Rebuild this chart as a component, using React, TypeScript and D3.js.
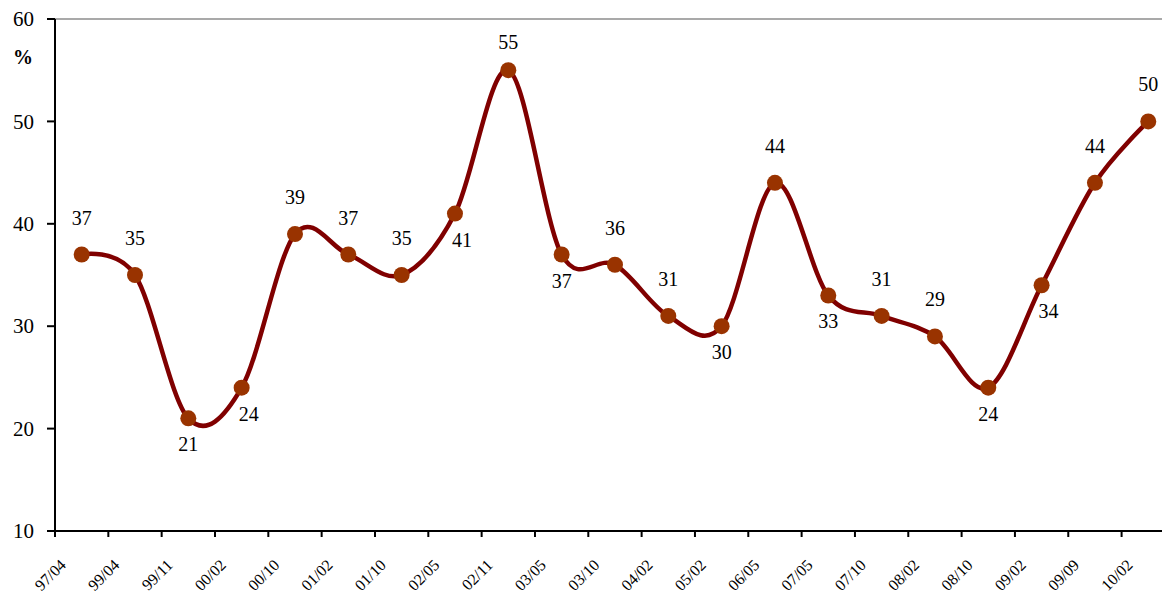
import React, { useEffect, useRef } from 'react'
import * as d3 from 'd3'

const categories = [
  '97/04', '99/04', '99/11', '00/02', '00/10', '01/02', '01/10', '02/05', '02/11', '03/05', '03/10',
  '04/02', '05/02', '06/05', '07/05', '07/10', '08/02', '08/10', '09/02', '09/09', '10/02'
]
const values = [37, 35, 21, 24, 39, 37, 35, 41, 55, 37, 36, 31, 30, 44, 33, 31, 29, 24, 34, 44, 50]
// where each data label sits relative to its point
const labelSide = [
  'above', 'above', 'below', 'right', 'above', 'above', 'above', 'right', 'above', 'below', 'above',
  'above', 'below', 'above', 'below', 'above', 'above', 'below', 'right', 'above', 'above'
]
const yTicks = [10, 20, 30, 40, 50, 60]

const width = 1162
const height = 593
const plot = { left: 55, top: 19, bottom: 531, step: 53.33 }
const serif = '"Liberation Serif", "Times New Roman", serif'

export default function App() {
  const svgRef = useRef<SVGSVGElement>(null)

  useEffect(() => {
    if (!svgRef.current) return
    const svg = d3.select(svgRef.current)
    svg.selectAll('*').remove()

    const x = d3.scaleBand()
      .domain(categories)
      .range([plot.left, plot.left + categories.length * plot.step])
      .paddingInner(0)
      .paddingOuter(0)

    const y = d3.scaleLinear()
      .domain([10, 60])
      .range([plot.bottom, plot.top])

    const cx = (i: number) => (x(categories[i]) || 0) + x.bandwidth() / 2

    // top border
    svg.append('line')
      .attr('x1', plot.left).attr('x2', width)
      .attr('y1', y(60)).attr('y2', y(60))
      .attr('stroke', '#8c8c8c').attr('stroke-width', 1.3)

    // y axis
    const yAxis = svg.append('g')
    yAxis.append('line')
      .attr('x1', plot.left).attr('x2', plot.left)
      .attr('y1', plot.top).attr('y2', plot.bottom)
      .attr('stroke', '#000').attr('stroke-width', 2)
    yAxis.selectAll('line.tick')
      .data(yTicks)
      .join('line')
      .attr('class', 'tick')
      .attr('x1', plot.left - 8).attr('x2', plot.left)
      .attr('y1', d => y(d)).attr('y2', d => y(d))
      .attr('stroke', '#000').attr('stroke-width', 2)
    yAxis.selectAll('text')
      .data(yTicks)
      .join('text')
      .attr('x', plot.left - 21)
      .attr('y', d => y(d))
      .attr('dy', '0.34em')
      .attr('text-anchor', 'end')
      .attr('font-family', serif)
      .attr('font-size', 21)
      .text(d => d)

    svg.append('text')
      .attr('x', 23).attr('y', 64)
      .attr('text-anchor', 'middle')
      .attr('font-family', serif)
      .attr('font-size', 20)
      .attr('font-weight', 'bold')
      .text('%')

    // x axis
    const xAxis = svg.append('g')
    xAxis.append('line')
      .attr('x1', plot.left).attr('x2', width)
      .attr('y1', plot.bottom).attr('y2', plot.bottom)
      .attr('stroke', '#000').attr('stroke-width', 2)
    xAxis.selectAll('line.tick')
      .data(categories)
      .join('line')
      .attr('class', 'tick')
      .attr('x1', d => x(d) || 0).attr('x2', d => x(d) || 0)
      .attr('y1', plot.bottom).attr('y2', plot.bottom + 6)
      .attr('stroke', '#000').attr('stroke-width', 2)
    xAxis.selectAll('text')
      .data(categories)
      .join('text')
      .attr('transform', d => `translate(${(x(d) || 0) + 12},${plot.bottom + 35}) rotate(-45)`)
      .attr('text-anchor', 'end')
      .attr('font-family', serif)
      .attr('font-size', 16)
      .text(d => d)

    // smoothed series
    const line = d3.line<number>()
      .x((_, i) => cx(i))
      .y(d => y(d))
      .curve(d3.curveCardinal.tension(0))

    svg.append('path')
      .datum(values)
      .attr('d', line)
      .attr('fill', 'none')
      .attr('stroke', '#800000')
      .attr('stroke-width', 4.5)
      .attr('stroke-linejoin', 'round')

    svg.selectAll('circle')
      .data(values)
      .join('circle')
      .attr('cx', (_, i) => cx(i))
      .attr('cy', d => y(d))
      .attr('r', 8)
      .attr('fill', '#993300')

    // data labels
    svg.append('g')
      .selectAll('text')
      .data(values)
      .join('text')
      .attr('x', (_, i) => cx(i) + (labelSide[i] === 'right' ? 7 : 0))
      .attr('y', (d, i) => {
        const py = y(d)
        if (labelSide[i] === 'above') return Math.max(py - 30, plot.top + 30)
        return py + 33
      })
      .attr('text-anchor', 'middle')
      .attr('font-family', serif)
      .attr('font-size', 20)
      .attr('fill', '#000')
      .text(d => d)
  }, [])

  return (
    <div style={{ position: 'absolute', left: 0, top: 0 }}>
      <svg ref={svgRef} width={width} height={height} style={{ display: 'block', background: '#fff' }}></svg>
    </div>
  )
}
